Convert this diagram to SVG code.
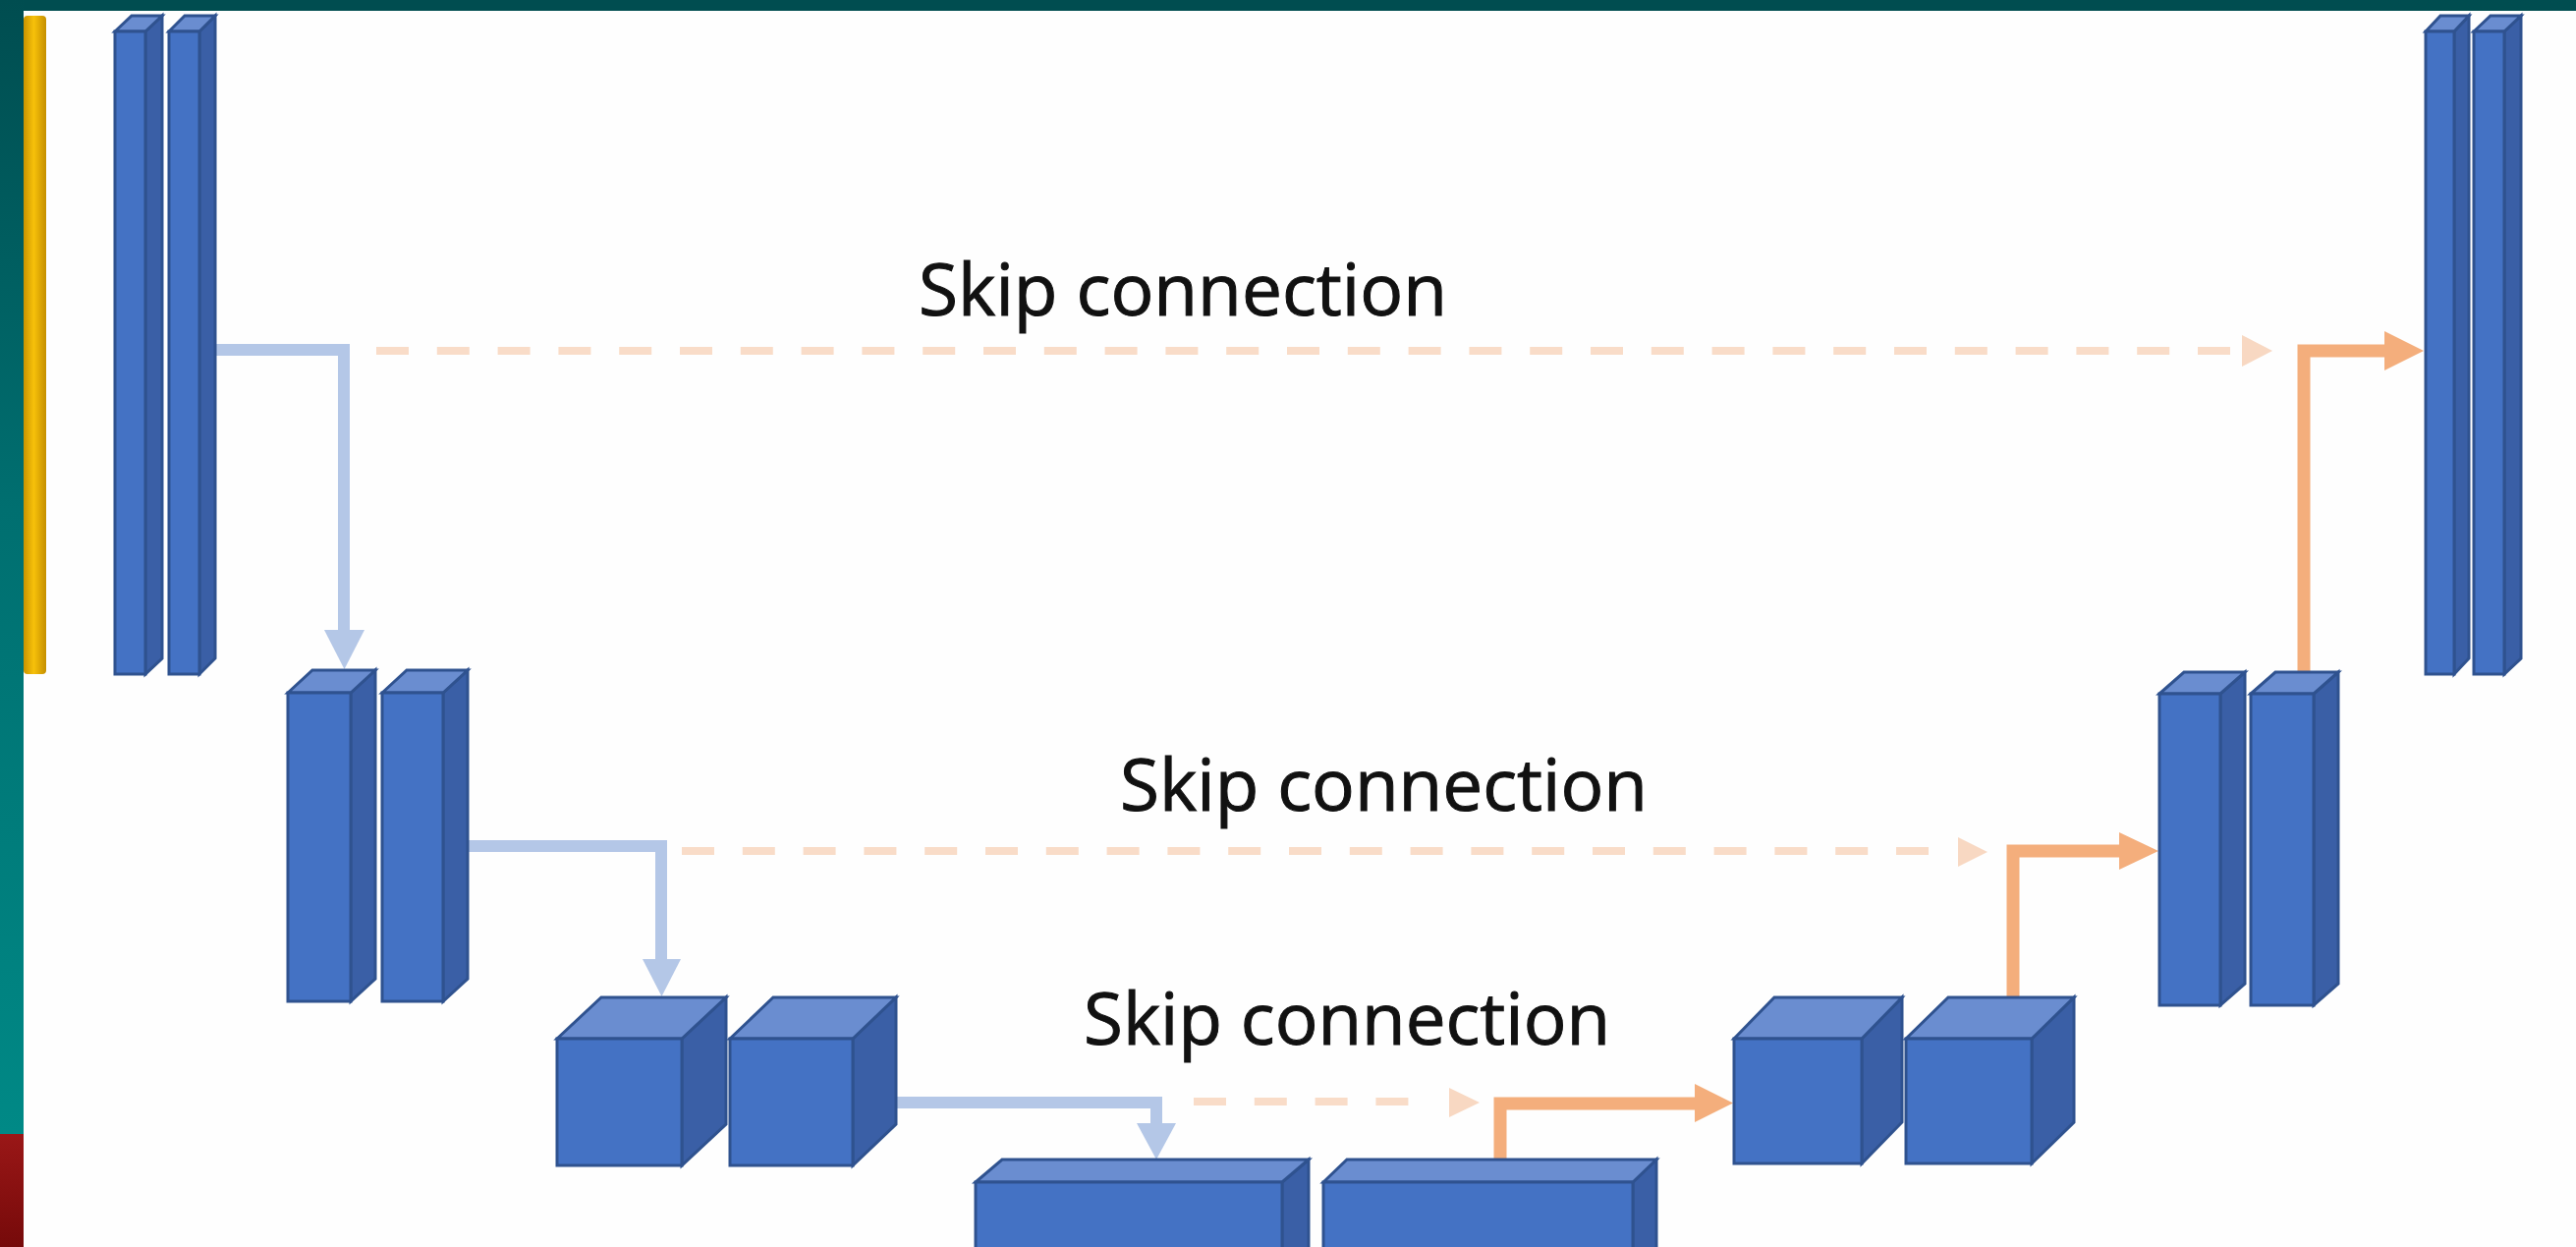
<svg xmlns="http://www.w3.org/2000/svg" width="2622" height="1269" viewBox="0 0 2622 1269">
  <defs>
    <linearGradient id="edgeGrad" x1="0" y1="0" x2="0" y2="1">
      <stop offset="0" stop-color="#004d50"/>
      <stop offset="0.45" stop-color="#006f70"/>
      <stop offset="1" stop-color="#008986"/>
    </linearGradient>
    <linearGradient id="redGrad" x1="0" y1="0" x2="0" y2="1">
      <stop offset="0" stop-color="#9a1717"/>
      <stop offset="1" stop-color="#760a0a"/>
    </linearGradient>
    <linearGradient id="goldGrad" x1="0" y1="0" x2="1" y2="0">
      <stop offset="0" stop-color="#c99300"/>
      <stop offset="0.45" stop-color="#f7c10a"/>
      <stop offset="1" stop-color="#c58f00"/>
    </linearGradient>
  </defs>
  <style>
    .front { fill: #4472c4; stroke: #2f528f; stroke-width: 3; stroke-linejoin: miter; }
    .top { fill: #6a8dd0; stroke: #2f528f; stroke-width: 3; stroke-linejoin: miter; }
    .side { fill: #3a5fa6; stroke: #2f528f; stroke-width: 3; stroke-linejoin: miter; }
    .down { fill: none; stroke: #b4c7e7; stroke-width: 12; }
    .downHead { fill: #b4c7e7; }
    .up { fill: none; stroke: #f4ae7c; stroke-width: 13; }
    .upHead { fill: #f4ae7c; }
    .skip { fill: none; stroke: #f9dcc8; stroke-width: 8; stroke-dasharray: 33 28.8; }
    .skipHead { fill: #f8d8c2; }
    .label { font-family: "Open Sans", "Noto Sans", "Liberation Sans", sans-serif; font-size: 73px; fill: #111111; stroke: #111111; stroke-width: 1; }
  </style>

  <!-- page -->
  <rect x="0" y="0" width="2622" height="1269" fill="#fefefe"/>
  <rect x="0" y="0" width="2622" height="11" fill="#004d50"/>
  <rect x="0" y="0" width="24" height="1154" fill="url(#edgeGrad)"/>
  <rect x="0" y="1154" width="24" height="115" fill="url(#redGrad)"/>
  <rect x="24" y="16" width="23" height="670" rx="4" fill="url(#goldGrad)"/>

  <!-- connectors -->
  <g id="connectors">
    <!-- encoder: downsampling -->
    <path class="down" d="M 218 356 H 350 V 643"/>
    <polygon class="downHead" points="330,641 371,641 350.5,681"/>
    <path class="down" d="M 474 861 H 673 V 978"/>
    <polygon class="downHead" points="654,976 693,976 673.5,1014"/>
    <path class="down" d="M 911 1122 H 1177 V 1145"/>
    <polygon class="downHead" points="1157,1143 1197,1143 1177,1180"/>

    <!-- decoder: upsampling -->
    <path class="up" d="M 1527 1182 V 1123 H 1727"/>
    <polygon class="upHead" points="1725,1103 1725,1142 1764,1122.5"/>
    <path class="up" d="M 2049 1016 V 866 H 2159"/>
    <polygon class="upHead" points="2157,847 2157,885 2197,866"/>
    <path class="up" d="M 2345 685 V 357 H 2429"/>
    <polygon class="upHead" points="2427,337 2427,377 2467,357"/>

    <!-- skip connections -->
    <path class="skip" d="M 383 357 H 2271"/>
    <polygon class="skipHead" points="2282,341 2282,373 2313,357"/>
    <path class="skip" d="M 694 866 H 1964"/>
    <polygon class="skipHead" points="1993,852 1993,882 2023,867"/>
    <path class="skip" d="M 1215 1121 H 1434"/>
    <polygon class="skipHead" points="1475,1107 1475,1137 1506,1122"/>
  </g>

  <!-- labels -->
  <text class="label" x="935" y="321" textLength="538" lengthAdjust="spacingAndGlyphs">Skip connection</text>
  <text class="label" x="1140" y="825" textLength="537" lengthAdjust="spacingAndGlyphs">Skip connection</text>
  <text class="label" x="1103" y="1063" textLength="536" lengthAdjust="spacingAndGlyphs">Skip connection</text>

  <!-- level 1 encoder -->
  <g id="enc1a">
    <polygon class="side" points="148,32 165,16 165,670 148,686"/>
    <polygon class="top" points="117,32 134,16 165,16 148,32"/>
    <rect class="front" x="117" y="32" width="31" height="654"/>
  </g>
  <g id="enc1b">
    <polygon class="side" points="203,32 219,16 219,670 203,686"/>
    <polygon class="top" points="172,32 188,16 219,16 203,32"/>
    <rect class="front" x="172" y="32" width="31" height="654"/>
  </g>

  <!-- level 2 encoder -->
  <g id="enc2a">
    <polygon class="side" points="357,705 382,682 382,996 357,1019"/>
    <polygon class="top" points="293,705 318,682 382,682 357,705"/>
    <rect class="front" x="293" y="705" width="64" height="314"/>
  </g>
  <g id="enc2b">
    <polygon class="side" points="451,705 476,682 476,996 451,1019"/>
    <polygon class="top" points="389,705 414,682 476,682 451,705"/>
    <rect class="front" x="389" y="705" width="62" height="314"/>
  </g>

  <!-- level 3 encoder -->
  <g id="enc3a">
    <polygon class="side" points="694,1057 739,1015 739,1144 694,1186"/>
    <polygon class="top" points="567,1057 612,1015 739,1015 694,1057"/>
    <rect class="front" x="567" y="1057" width="127" height="129"/>
  </g>
  <g id="enc3b">
    <polygon class="side" points="868,1057 912,1015 912,1144 868,1186"/>
    <polygon class="top" points="743,1057 787,1015 912,1015 868,1057"/>
    <rect class="front" x="743" y="1057" width="125" height="129"/>
  </g>

  <!-- bottleneck -->
  <g id="bottleneckA">
    <polygon class="side" points="1305,1203 1332,1180 1332,1300 1305,1323"/>
    <polygon class="top" points="993,1203 1020,1180 1332,1180 1305,1203"/>
    <rect class="front" x="993" y="1203" width="312" height="120"/>
  </g>
  <g id="bottleneckB">
    <polygon class="side" points="1662,1203 1686,1180 1686,1300 1662,1323"/>
    <polygon class="top" points="1347,1203 1371,1180 1686,1180 1662,1203"/>
    <rect class="front" x="1347" y="1203" width="315" height="120"/>
  </g>

  <!-- level 3 decoder -->
  <g id="dec3a">
    <polygon class="side" points="1895,1057 1936,1015 1936,1142 1895,1184"/>
    <polygon class="top" points="1765,1057 1806,1015 1936,1015 1895,1057"/>
    <rect class="front" x="1765" y="1057" width="130" height="127"/>
  </g>
  <g id="dec3b">
    <polygon class="side" points="2068,1057 2111,1015 2111,1142 2068,1184"/>
    <polygon class="top" points="1940,1057 1983,1015 2111,1015 2068,1057"/>
    <rect class="front" x="1940" y="1057" width="128" height="127"/>
  </g>

  <!-- level 2 decoder -->
  <g id="dec2a">
    <polygon class="side" points="2260,706 2285,684 2285,1001 2260,1023"/>
    <polygon class="top" points="2198,706 2223,684 2285,684 2260,706"/>
    <rect class="front" x="2198" y="706" width="62" height="317"/>
  </g>
  <g id="dec2b">
    <polygon class="side" points="2355,706 2380,684 2380,1001 2355,1023"/>
    <polygon class="top" points="2291,706 2316,684 2380,684 2355,706"/>
    <rect class="front" x="2291" y="706" width="64" height="317"/>
  </g>

  <!-- level 1 decoder -->
  <g id="dec1a">
    <polygon class="side" points="2498,32 2513,16 2513,670 2498,686"/>
    <polygon class="top" points="2469,32 2484,16 2513,16 2498,32"/>
    <rect class="front" x="2469" y="32" width="29" height="654"/>
  </g>
  <g id="dec1b">
    <polygon class="side" points="2549,32 2566,16 2566,670 2549,686"/>
    <polygon class="top" points="2518,32 2535,16 2566,16 2549,32"/>
    <rect class="front" x="2518" y="32" width="31" height="654"/>
  </g>
</svg>
